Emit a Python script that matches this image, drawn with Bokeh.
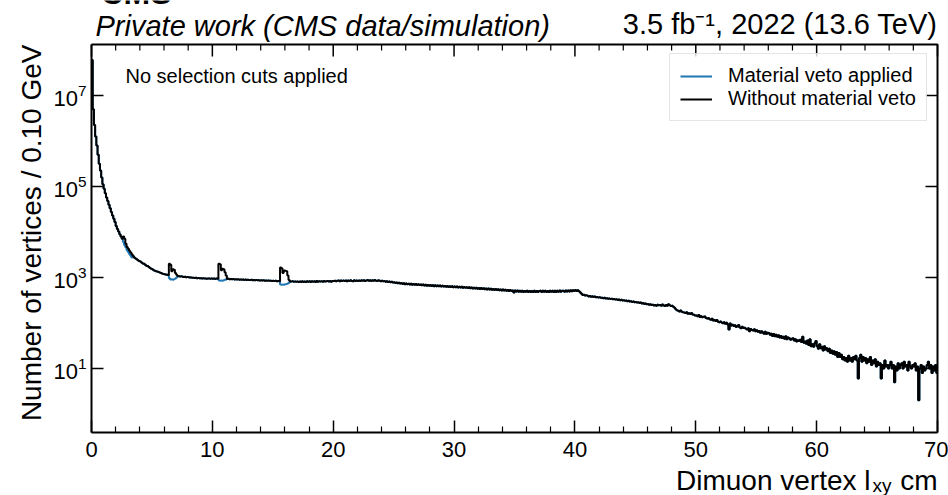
import numpy as np
from math import pi
from bokeh.plotting import figure
from bokeh.models import (Range1d, LinearAxis, LogAxis, FixedTicker, Label,
                          Legend, LegendItem, ColumnDataSource, LogTickFormatter)
from bokeh.embed import file_html
from bokeh.resources import INLINE

# ---------------- data ----------------
bin_width = 0.1
x_min, x_max = 0.0, 70.0
y_min, y_max = 0.392, 1.32e8

# counts per 0.1 cm bin, without the material veto (one row = 1 cm)
counts_no_veto = [
    60000000, 5000000, 2240000, 1260000, 794000, 501000, 316000, 224000, 158000, 112000,
    89100, 70800, 57500, 47900, 39800, 33100, 27500, 22900, 19500, 16600,
    13500, 11700, 10200, 8900, 7940, 7080, 7950, 7100, 5500, 4680,
    4270, 3890, 3550, 3240, 2950, 2750, 2630, 2510, 2400, 2290,
    2240, 2140, 2040, 1995, 1905, 1820, 1780, 1700, 1620, 1550,
    1510, 1450, 1410, 1380, 1350, 1320, 1290, 1260, 1230, 1200,
    1175, 1160, 1150, 1140, 2000, 1900, 1380, 1510, 1480, 1260,
    1150, 1080, 1070, 1050, 1060, 1040, 1030, 1035, 1015, 1020,
    1010, 995, 1005, 985, 990, 970, 985, 965, 975, 958,
    960, 950, 965, 945, 955, 940, 950, 945, 935, 948,
    940, 952, 930, 945, 935, 2000, 1950, 1450, 1560, 1520,
    1300, 1100, 925, 935, 918, 930, 910, 925, 905, 915,
    900, 912, 895, 905, 890, 902, 885, 898, 880, 892,
    885, 878, 890, 872, 882, 868, 880, 865, 875, 862,
    870, 858, 866, 852, 862, 848, 858, 845, 853, 840,
    850, 838, 846, 832, 842, 828, 1650, 1600, 1250, 1420,
    1400, 1380, 1100, 880, 820, 812, 825, 808, 818, 805,
    815, 798, 818, 792, 826, 800, 820, 794, 828, 806,
    822, 800, 830, 806, 824, 800, 836, 810, 826, 812,
    830, 806, 834, 812, 826, 842, 814, 836, 810, 834,
    838, 852, 824, 846, 860, 830, 854, 834, 862, 840,
    856, 830, 860, 836, 866, 842, 832, 868, 842, 858,
    842, 864, 836, 870, 846, 874, 842, 858, 878, 848,
    866, 842, 872, 848, 880, 850, 838, 868, 846, 832,
    846, 822, 838, 810, 828, 798, 818, 788, 806, 778,
    788, 758, 780, 748, 768, 734, 756, 722, 746, 714,
    736, 708, 730, 702, 726, 694, 720, 690, 716, 686,
    708, 680, 702, 674, 698, 670, 692, 662, 688, 660,
    680, 652, 676, 646, 672, 642, 668, 638, 664, 634,
    658, 630, 654, 624, 650, 620, 646, 616, 642, 614,
    636, 608, 632, 604, 628, 600, 624, 596, 620, 592,
    614, 586, 608, 580, 604, 576, 598, 570, 594, 566,
    588, 562, 584, 556, 580, 552, 574, 546, 570, 542,
    564, 538, 560, 532, 556, 528, 552, 524, 548, 520,
    543, 516, 538, 510, 534, 506, 530, 502, 516, 466,
    520, 492, 516, 488, 513, 484, 510, 482, 506, 486,
    508, 482, 506, 478, 503, 480, 510, 482, 506, 477,
    503, 513, 480, 508, 484, 514, 482, 506, 478, 508,
    486, 513, 482, 510, 480, 508, 487, 516, 484, 508,
    513, 487, 518, 490, 520, 492, 523, 497, 526, 502,
    528, 504, 526, 497, 470, 440, 410, 420, 400, 408,
    396, 384, 390, 379, 385, 371, 380, 368, 372, 362,
    367, 357, 361, 351, 357, 346, 350, 341, 347, 336,
    341, 333, 337, 327, 333, 321, 327, 317, 323, 312,
    317, 307, 311, 301, 307, 296, 301, 291, 297, 286,
    291, 281, 285, 275, 281, 268, 275, 263, 269, 259,
    263, 253, 257, 247, 253, 243, 249, 240, 251, 244,
    247, 238, 255, 242, 236, 249, 240, 257, 245, 236,
    238, 228, 215, 200, 190, 186, 180, 188, 176, 172,
    170, 166, 173, 160, 163, 158, 165, 154, 152, 147,
    146, 141, 149, 136, 140, 133, 137, 139, 128, 126,
    129, 121, 118, 124, 113, 116, 110, 117, 106, 104,
    108, 103, 99, 104, 96, 101, 93, 72, 97, 88,
    91, 86, 89, 82, 85, 90, 80, 77, 83, 78,
    79, 75, 72, 77, 66, 74, 70, 68, 73, 66,
    69, 64, 67, 61, 66, 62, 58, 64, 57, 61,
    60, 55, 58, 52, 57, 51, 55, 50, 54, 48,
    52, 47, 50, 45, 51, 44, 48, 46, 43, 45,
    46, 41, 44, 39, 42, 40, 43, 38, 50, 37,
    39, 35, 41, 33, 44, 31, 34, 30, 36, 40,
    31, 27, 34, 28, 30, 25, 31, 26, 28, 24,
    27, 22, 25, 21, 24, 20, 23, 18, 22, 18,
    20, 16, 18, 15, 17, 14, 19, 15, 17, 14,
    18, 16, 19, 15, 6, 17, 20, 14, 18, 15,
    17, 13, 16, 14, 18, 12, 15, 13, 16, 11,
    14, 12, 13, 6, 12, 10, 15, 11, 12, 10,
    12, 14, 10, 12, 5, 11, 9, 13, 10, 12,
    13, 10, 14, 11, 12, 9, 14, 11, 10, 12,
    11, 13, 9, 11, 2, 10, 12, 8, 11, 9,
    10, 12, 14, 10, 12, 8, 11, 9, 12, 8,
]

# bins where the material-veto histogram differs from the one without veto
veto_bins = [26, 27, 28, 29, 30, 31, 32, 33,
             64, 65, 66, 67, 68, 69, 70,
             105, 106, 107, 108, 109, 110, 111,
             156, 157, 158, 159, 160, 161, 162, 163]
veto_counts = [6000, 5100, 4600, 3980, 3630, 3300, 3020, 2760,
               960, 900, 920, 890, 910, 950, 1000,
               870, 845, 860, 850, 870, 890, 900,
               700, 690, 705, 695, 710, 720, 740, 770]

counts_veto = list(counts_no_veto)
for b, c in zip(veto_bins, veto_counts):
    counts_veto[b] = c

x_major = [0, 10, 20, 30, 40, 50, 60, 70]
x_minor = [v for v in range(2, 70, 2) if v % 10 != 0]
y_major = [10, 1000, 100000, 10000000]

legend_labels = ["Material veto applied", "Without material veto"]
colors = ["#1f77b4", "#000000"]

# ---------------- layout (pixels of the 948x495 canvas) ----------------
W, H = 948, 495
BOX_L, BOX_R, BOX_T, BOX_B = 91, 937, 44, 432   # the axes box
FONT = "Liberation Sans"
MAJOR_LEN, MINOR_LEN = 12, 6

kx = (BOX_R - BOX_L) / (x_max - x_min)
xr = Range1d(x_min - BOX_L / kx, x_max + (W - BOX_R) / kx)
ly0, ly1 = np.log10(y_min), np.log10(y_max)
ky = (BOX_B - BOX_T) / (ly1 - ly0)
yr = Range1d(10 ** (ly0 - (H - BOX_B) / ky), 10 ** (ly1 + BOX_T / ky))

p = figure(width=W, height=H, x_range=xr, y_range=yr, y_axis_type="log",
           x_axis_location=None, y_axis_location=None,
           output_backend="svg", toolbar_location=None, title=None,
           min_border_left=0, min_border_right=0, min_border_top=0,
           min_border_bottom=0)
p.grid.visible = False
p.outline_line_color = None
p.background_fill_color = "white"
p.border_fill_color = "white"

edges = np.round(np.arange(len(counts_no_veto) + 1) * bin_width, 1)
src_veto = ColumnDataSource(dict(x=list(edges), y=counts_veto + [counts_veto[-1]]))
src_all = ColumnDataSource(dict(x=list(edges), y=counts_no_veto + [counts_no_veto[-1]]))
r_blue = p.step("x", "y", source=src_veto, mode="after", line_color=colors[0], line_width=2)
r_black = p.step("x", "y", source=src_all, mode="after", line_color=colors[1], line_width=2)


def style_axis(ax):
    ax.axis_line_width = 2
    ax.axis_line_color = "black"
    ax.major_tick_in, ax.major_tick_out = MAJOR_LEN, 0
    ax.minor_tick_in, ax.minor_tick_out = MINOR_LEN, 0
    ax.major_tick_line_width = 1.5
    ax.minor_tick_line_width = 1.2
    ax.major_tick_line_color = "black"
    ax.minor_tick_line_color = "black"
    ax.major_label_text_font = FONT
    ax.major_label_text_color = "black"
    ax.major_label_text_font_size = "22px"


bottom = LinearAxis(ticker=FixedTicker(ticks=x_major, minor_ticks=x_minor),
                    fixed_location=y_min, bounds=(x_min, x_max))
style_axis(bottom)
bottom.major_label_standoff = 9
p.add_layout(bottom, "below")

left = LogAxis(ticker=FixedTicker(ticks=y_major, minor_ticks=[]),
               formatter=LogTickFormatter(), fixed_location=x_min,
               bounds=(y_min, y_max))
style_axis(left)
left.major_label_standoff = 5
p.add_layout(left, "left")

# top and right edges of the box, drawn as plain line glyphs
p.line(x=[x_min, x_max, x_max], y=[y_max, y_max, y_min],
       line_color="black", line_width=2)

# mirrored inward ticks on the top and right edges
top_fac_major = 10 ** (-MAJOR_LEN / ky)
top_fac_minor = 10 ** (-MINOR_LEN / ky)
p.multi_line(xs=[[t, t] for t in x_major],
             ys=[[y_max, y_max * top_fac_major] for _ in x_major],
             line_color="black", line_width=1.5)
p.multi_line(xs=[[t, t] for t in x_minor],
             ys=[[y_max, y_max * top_fac_minor] for _ in x_minor],
             line_color="black", line_width=1.2)
p.multi_line(xs=[[x_max, x_max - MAJOR_LEN / kx] for _ in y_major],
             ys=[[t, t] for t in y_major],
             line_color="black", line_width=1.5)

# legend: its (x, y) location is the lower-left corner, from the canvas bottom
legend = Legend(items=[LegendItem(label=legend_labels[0], renderers=[r_blue]),
                       LegendItem(label=legend_labels[1], renderers=[r_black])],
                location=(669, H - 121), padding=10, spacing=0,
                glyph_width=32, glyph_height=20, label_standoff=16,
                label_text_font=FONT, label_text_font_size="20px",
                label_text_color="black",
                label_height=20, border_line_color="#cccccc", border_line_width=1,
                background_fill_alpha=0.8)
p.add_layout(legend)


def add_label(text, X, Y, size, align="left", baseline="alphabetic",
              style="normal", angle=0.0):
    # X, Y: canvas pixels from the top-left corner (Y of the text's anchor)
    p.add_layout(Label(text=text, x=X, y=H - Y, x_units="screen", y_units="screen",
                       text_font=FONT, text_font_size=size, text_align=align,
                       text_baseline=baseline, text_font_style=style,
                       text_color="black", angle=angle))


add_label("CMS", 100, -8, "32px", style="bold")
add_label("Private work (CMS data/simulation)", 95, 25, "29px", style="italic")
add_label("3.5 fb\u207b\u00b9, 2022 (13.6 TeV)", 937, 23, "29px", align="right")
add_label("No selection cuts applied", 125, 75, "20px")
add_label("Number of vertices / 0.10 GeV", 31, 44, "28px", align="right",
          baseline="middle", angle=pi / 2)
add_label("Dimuon vertex l", 870, 480, "28px", align="right")
add_label("xy", 872, 485, "19px")
add_label("cm", 937, 480, "28px", align="right")

open("out.html", "w").write(file_html(p, INLINE))
